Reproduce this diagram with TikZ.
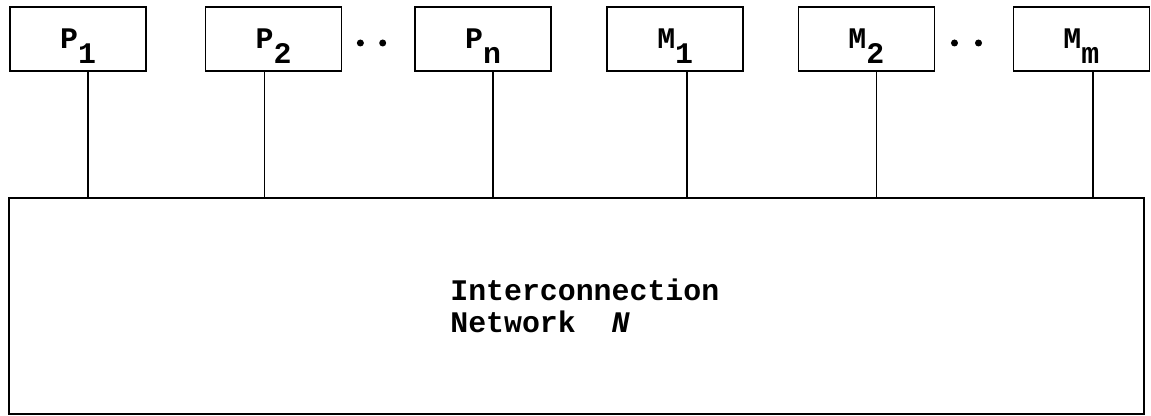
\documentclass[tikz,border=0pt]{standalone}
\usepackage{fontspec}
\setmonofont{Liberation Mono}
\usetikzlibrary{positioning,calc}
\newcommand{\subidx}[2]{#1\raisebox{-0.48em}[\height][0pt]{#2}}
\tikzset{
  font=\ttfamily\bfseries\fontsize{17}{18}\selectfont,
  unit/.style ={draw, line width=0.9pt, minimum height=12.8mm, minimum width=27.2mm, inner sep=0pt},
  net/.style  ={draw, line width=0.9pt, minimum height=43.2mm, minimum width=227mm},
  lbl/.style  ={align=left, inner sep=0pt},
  bus/.style  ={line width=0.9pt},
}
\begin{document}
\begin{tikzpicture}
  \useasboundingbox (0,0) rectangle (23.02,-8.32);
  % processors and memories
  \node[unit] (p1) at (1.56,-0.78) {\subidx{P}{1}};
  \node[unit, right=11.6mm of p1] (p2) {\subidx{P}{2}};
  \node[unit, right=14.4mm of p2] (pn) {\subidx{P}{n}};
  \node[unit, right=10.9mm of pn] (m1) {\subidx{M}{1}};
  \node[unit, right=10.7mm of m1] (m2) {\subidx{M}{2}};
  \node[unit, right=15.5mm of m2] (mm) {\subidx{M}{m}};
  % network
  \node[net, anchor=north west] (net) at (0.16,-3.94) {};
  \node[lbl] (netname) at ($(net.center)+(0.17,0)$) {Interconnection\\Network~~\textit{N}};
  % dots between units
  \foreach \a/\b in {p2/pn, m2/mm}
    \fill ($(\a.east)!0.25!(\b.west)+(0,-0.08)$) circle (0.07)
          ($(\a.east)!0.56!(\b.west)+(0,-0.08)$) circle (0.07);
  % links to the network
  \foreach \u/\dx in {p1/0.2, p2/-0.18, pn/0.2, m1/0.23, m2/0.2, mm/0.23}
    \draw[bus] ([xshift=\dx cm]\u.south) -- ([xshift=\dx cm]\u.south |- net.north);
\end{tikzpicture}
\end{document}
